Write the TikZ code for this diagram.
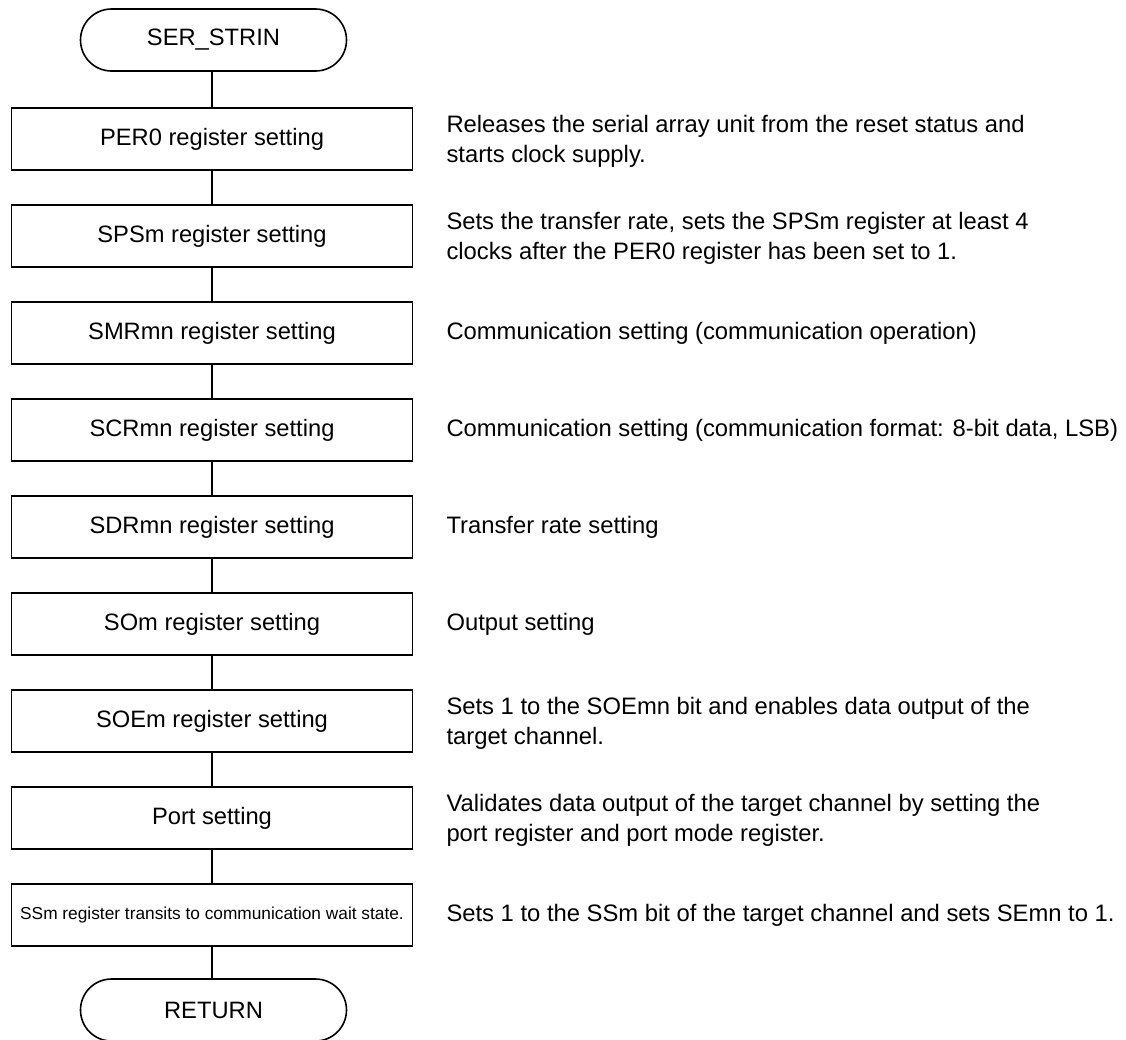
\documentclass[tikz,border=0pt]{standalone}
\usepackage{fontspec}
\setmainfont{Liberation Sans}
\begin{document}
\begin{tikzpicture}[x=1pt,y=-1pt,
  box/.style={draw, line width=1.6pt, minimum width=401pt, minimum height=62pt, inner sep=0pt,
    font=\fontsize{23.7}{28}\selectfont},
  term/.style={draw, line width=1.6pt, rounded corners=31pt, minimum width=266pt, minimum height=62pt, inner sep=0pt,
    font=\fontsize{23.7}{28}\selectfont},
  desc/.style={anchor=west, inner sep=0pt, align=left, font=\fontsize{23.8}{30}\selectfont},
  two/.style={yshift=-2pt},
  link/.style={line width=1.6pt}]
\useasboundingbox (0,0) rectangle (1126,1039);
\node[term] (start) at (213.5,40) {SER\_STRIN};
\node[box] (b1) at (212,139) {PER0 register setting};
\node[box] (b2) at (212,236) {SPSm register setting};
\node[box] (b3) at (212,333) {SMRmn register setting};
\node[box] (b4) at (212,430) {SCRmn register setting};
\node[box] (b5) at (212,527) {SDRmn register setting};
\node[box] (b6) at (212,624) {SOm register setting};
\node[box] (b7) at (212,721) {SOEm register setting};
\node[box] (b8) at (212,818) {Port setting};
\node[box, font=\fontsize{17.3}{20}\selectfont] (b9) at (212,915) {SSm register transits to communication wait state.};
\node[term] (ret) at (213.5,1010) {RETURN};
\draw[link] (b1.north) -- (b1.north |- start.south);
\draw[link] (b1) -- (b2);
\draw[link] (b2) -- (b3);
\draw[link] (b3) -- (b4);
\draw[link] (b4) -- (b5);
\draw[link] (b5) -- (b6);
\draw[link] (b6) -- (b7);
\draw[link] (b7) -- (b8);
\draw[link] (b8) -- (b9);
\draw[link] (b9.south) -- (b9.south |- ret.north);
\node[desc, two] (d1) at ([xshift=33pt]b1.east) {Releases the serial array unit from the reset status and\\starts clock supply.};
\node[desc, two] (d2) at ([xshift=33pt]b2.east) {Sets the transfer rate, sets the SPSm register at least 4\\clocks after the PER0 register has been set to 1.};
\node[desc] (d3) at ([xshift=33pt]b3.east) {Communication setting (communication operation)};
\node[desc] (d4) at ([xshift=33pt]b4.east) {Communication setting (communication format: 8-bit data, LSB)};
\node[desc] (d5) at ([xshift=33pt]b5.east) {Transfer rate setting};
\node[desc] (d6) at ([xshift=33pt]b6.east) {Output setting};
\node[desc, two] (d7) at ([xshift=33pt]b7.east) {Sets 1 to the SOEmn bit and enables data output of the\\target channel.};
\node[desc, two] (d8) at ([xshift=33pt]b8.east) {Validates data output of the target channel by setting the\\port register and port mode register.};
\node[desc] (d9) at ([xshift=33pt]b9.east) {Sets 1 to the SSm bit of the target channel and sets SEmn to 1.};
\end{tikzpicture}
\end{document}
